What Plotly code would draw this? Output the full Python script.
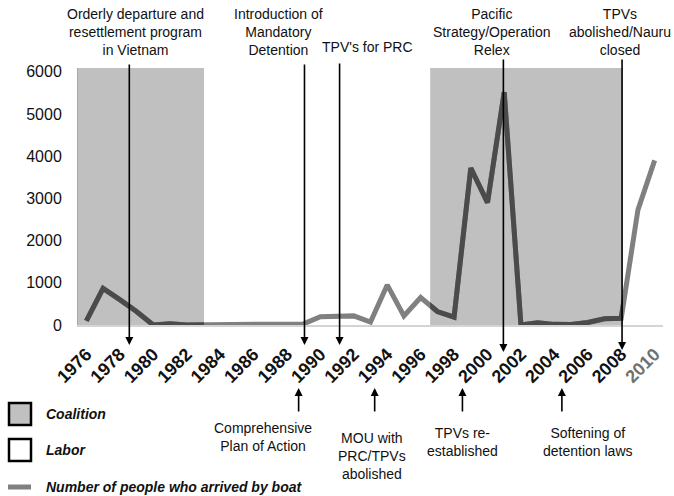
import plotly.graph_objects as go

# ---------------- data ----------------
years = list(range(1976, 2011))
arrivals = [100, 868, 600, 320, 0, 30, 0, 0, 0, 0, 0, 0, 0, 26, 198, 214, 216, 70,
            950, 215, 650, 320, 185, 3721, 2900, 5516, 1, 53, 15, 11, 60, 148, 161,
            2726, 3900]
tick_years = list(range(1976, 2011, 2))
y_ticks = [0, 1000, 2000, 3000, 4000, 5000, 6000]

# Coalition government periods (start, end) on the year scale
coalition_periods = [(1975.5, 1983.04), (1996.57, 2008.1)]

# Events above the chart: (text, year of arrow)
top_events = [
    ("Orderly departure and<br>resettlement program<br>in Vietnam", 1978.57),
    ("Introduction of<br>Mandatory<br>Detention", 1989.05),
    ("TPV's for PRC", 1991.15),
    ("Pacific<br>Strategy/Operation<br>Relex", 2000.95),
    ("TPVs<br>abolished/Nauru<br>closed", 2008.05),
]
# Events below the chart
bottom_events = [
    ("Comprehensive<br>Plan of Action", 1988.7),
    ("MOU with<br>PRC/TPVs<br>abolished", 1993.25),
    ("TPVs re-<br>established", 1998.5),
    ("Softening of<br>detention laws", 2004.45),
]

# ---------------- layout geometry ----------------
W, H = 674, 496
L, R, T, B = 78, 11, 68, 171
PW, PH = W - L - R, H - T - B
X0, X1 = 1975.5, 2010.5
YMAX = 6090


def py(p):  # pixel y -> paper y
    return (H - B - p) / PH


def px(p):  # pixel x -> paper x
    return (p - L) / PW


LIGHT = "#808080"
DARK = "#4b4b4b"
FONT = "Liberation Sans"

fig = go.Figure()

# full line (light)
fig.add_trace(go.Scatter(x=years, y=arrivals, mode="lines",
                         line=dict(color=LIGHT, width=5), hoverinfo="skip",
                         showlegend=False))

# darker line clipped to each coalition period via hidden axes
for i, (a, b) in enumerate(coalition_periods):
    ax_name = "x%d" % (i + 2)
    fig.add_trace(go.Scatter(x=years, y=arrivals, mode="lines", xaxis=ax_name, yaxis="y",
                             line=dict(color=DARK, width=5), hoverinfo="skip",
                             showlegend=False))
    fig.layout["xaxis%d" % (i + 2)] = dict(
        domain=[(a - X0) / (X1 - X0), (b - X0) / (X1 - X0)], range=[a, b],
        visible=False, anchor="y", fixedrange=True)
    fig.add_shape(type="rect", xref="x", yref="paper", x0=a, x1=b, y0=0, y1=1,
                  fillcolor="#c0c0c0", line=dict(width=0), layer="below")

annotations = []
# top events
top_text_pos = [(135, 32), (278, 32), (367, 47), (492, 32), (620, 32)]
top_arrow = [(345, 63), (345, 63), (345, 62), (352, 58), (350, 58)]
for (txt, yr), (tx, ty), (tip, top) in zip(top_events, top_text_pos, top_arrow):
    annotations.append(dict(text=txt, xref="paper", yref="paper", x=px(tx), y=py(ty),
                            xanchor="center", yanchor="middle", showarrow=False,
                            font=dict(family=FONT, size=14, color="#111")))
    annotations.append(dict(text="", xref="x", yref="paper", x=yr, y=py(tip),
                            ax=0, ay=-(tip - top), showarrow=True, arrowhead=2,
                            arrowsize=1, arrowwidth=1.6, arrowcolor="#000"))

bot_text_pos = [(263, 437), (372, 456), (462, 442), (588, 442)]
for (txt, yr), (tx, ty) in zip(bottom_events, bot_text_pos):
    annotations.append(dict(text=txt, xref="paper", yref="paper", x=px(tx), y=py(ty),
                            xanchor="center", yanchor="middle", showarrow=False,
                            font=dict(family=FONT, size=14, color="#111")))
    annotations.append(dict(text="", xref="x", yref="paper", x=yr, y=py(388),
                            ax=0, ay=25, showarrow=True, arrowhead=2,
                            arrowsize=1, arrowwidth=1.6, arrowcolor="#000"))

# custom legend
legend_items = [("Coalition", 414, 14), ("Labor", 450, 14),
                ("Number of people who arrived by boat", 487, 14)]
for txt, ty, fs in legend_items:
    annotations.append(dict(text="<b><i>%s</i></b>" % txt, xref="paper", yref="paper",
                            x=px(44), y=py(ty), xanchor="left", yanchor="middle",
                            showarrow=False, font=dict(family=FONT, size=fs, color="#111")))

shapes = [
    dict(type="rect", xref="paper", yref="paper", x0=px(9), x1=px(31), y0=py(403), y1=py(425),
         fillcolor="#c0c0c0", line=dict(color="#000", width=2.5)),
    dict(type="rect", xref="paper", yref="paper", x0=px(9), x1=px(31), y0=py(439), y1=py(461),
         fillcolor="#fff", line=dict(color="#000", width=2.5)),
    dict(type="line", xref="paper", yref="paper", x0=px(8), x1=px(31), y0=py(487), y1=py(487),
         line=dict(color=LIGHT, width=5)),
]
for s in shapes:
    fig.add_shape(**s)

tick_text = ["<span style='color:#707070'>%d</span>" % y if y == 2010 else str(y) for y in tick_years]

fig.update_layout(
    width=W, height=H,
    margin=dict(l=L, r=R, t=T, b=B),
    paper_bgcolor="white", plot_bgcolor="rgba(0,0,0,0)",
    showlegend=False,
    annotations=annotations,
    xaxis=dict(range=[X0, X1], tickvals=tick_years, ticktext=tick_text, tickangle=-45,
               tickfont=dict(family=FONT, size=18, color="#111", weight="bold"),
               showgrid=False, zeroline=False, showline=True, linecolor="#d4d4d4",
               linewidth=1.5, ticks="", ticklabelstandoff=10, fixedrange=True),
    yaxis=dict(range=[0, YMAX], tickvals=y_ticks, showgrid=False, zeroline=False,
               tickfont=dict(family=FONT, size=16, color="#111"),
               showline=True, linecolor="#a8a8a8", linewidth=1, ticks="",
               ticklabelstandoff=12, fixedrange=True),
)

fig.write_html("out.html", config={"displayModeBar": False},
               post_script="document.body.style.margin='0';")
